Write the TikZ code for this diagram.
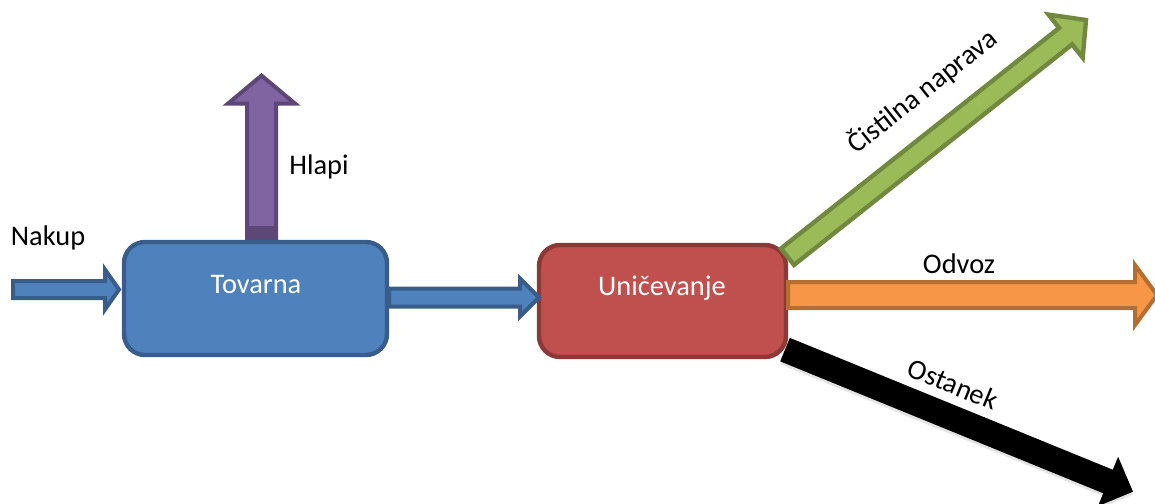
\documentclass[tikz,border=0pt]{standalone}
\usepackage{fontspec}
\setmainfont{Carlito}
\usetikzlibrary{calc}

\definecolor{blueF}{HTML}{4F81BD}
\definecolor{blueD}{HTML}{385D8A}
\definecolor{redF}{HTML}{C0504D}
\definecolor{redD}{HTML}{8C3836}
\definecolor{purF}{HTML}{8064A2}
\definecolor{purD}{HTML}{5C4776}
\definecolor{grnF}{HTML}{9BBB59}
\definecolor{grnD}{HTML}{71893F}
\definecolor{orF}{HTML}{F79646}
\definecolor{orD}{HTML}{B66D31}

% block arrow: [style]{from}{to}{shaft half width}{head half width}{head length}
\newcommand\blockarrow[6][]{%
  \path ($(#3)!#6!(#2)$) coordinate (hb);
  \draw[#1] ($(#2)!#4!90:(#3)$) -- ($(hb)!#4!90:(#3)$) -- ($(hb)!#5!90:(#3)$)
    -- (#3) -- ($(hb)!#5!-90:(#3)$) -- ($(hb)!#4!-90:(#3)$)
    -- ($(#2)!#4!-90:(#3)$) -- cycle;
}

\tikzset{
  lbl/.style={font=\fontsize{14.2pt}{17pt}\selectfont, inner sep=0pt},
  procbox/.style={draw, line width=2.2pt, rounded corners=10.5pt,
    inner sep=0pt, outer sep=0pt},
  flow/.style={line width=2pt, line join=miter},
}

\begin{document}
\begin{tikzpicture}[x=0.5pt,y=-0.5pt]
\clip (0,0) rectangle (1155,503);

% residue arrow, under the destruction box
\coordinate (ostS) at (785,349.6);
\coordinate (ostE) at (1133,491.7);
\blockarrow[fill=black, draw=none, preaction={fill=black!30, opacity=0.35,
  transform canvas={yshift=-1.5pt}}]{ostS}{ostE}{6.35pt}{13.35pt}{13.5pt}

% evaporation arrow, under the factory box
\coordinate (hlS) at (261.5,240);
\coordinate (hlE) at (261.5,75.6);
\blockarrow[flow, fill=purF, draw=purD]{hlS}{hlE}{7.25pt}{16.75pt}{14pt}
\fill[purD] (245,226) rectangle (278,240);

% process boxes
\node[procbox, fill=blueF, draw=blueD, minimum width=131.5pt,
  minimum height=56.5pt] (tov) at (255.5,298.5) {};
\node[procbox, fill=redF, draw=redD, minimum width=123.5pt,
  minimum height=56pt] (uni) at (662.5,301) {};

% inflow and transfer arrows
\coordinate (nakS) at (13,289.5);
\coordinate (nakE) at (119,289.5);
\blockarrow[flow, fill=blueF, draw=blueD]{nakS}{nakE}{4.25pt}{10pt}{7pt}

\coordinate (midS) at ($(tov.east)+(2,-1)$);
\coordinate (midE) at (539,297.5);
\blockarrow[flow, fill=blueF, draw=blueD]{midS}{midE}{4.5pt}{9.5pt}{9.5pt}

% outflows
\coordinate (odvS) at ($(uni.east)+(2,-6)$);
\coordinate (odvE) at (1157,295);
\blockarrow[flow, fill=orF, draw=orD]{odvS}{odvE}{6.5pt}{15pt}{11pt}

\coordinate (cisS) at (787.5,256.7);
\coordinate (cisE) at (1086,20);
\blockarrow[flow, line width=2.2pt, fill=grnF, draw=grnD]{cisS}{cisE}{5.25pt}{13.75pt}{13pt}

% labels
\node[lbl, anchor=base] (tnak) at (48,245) {Nakup};
\node[lbl, anchor=base] (thla) at (319,174) {Hlapi};
\node[lbl, anchor=base, text=white] (ttov) at (256,293) {Tovarna};
\node[lbl, anchor=base, text=white] (tuni) at (662,295) {Uničevanje};
\node[lbl, anchor=base] (todv) at (959,273) {Odvoz};
\node[lbl, rotate=38.4] (tcis) at (922,91) {Čistilna naprava};
\node[lbl, rotate=-22.2] (tost) at (953,384) {Ostanek};
\end{tikzpicture}
\end{document}
